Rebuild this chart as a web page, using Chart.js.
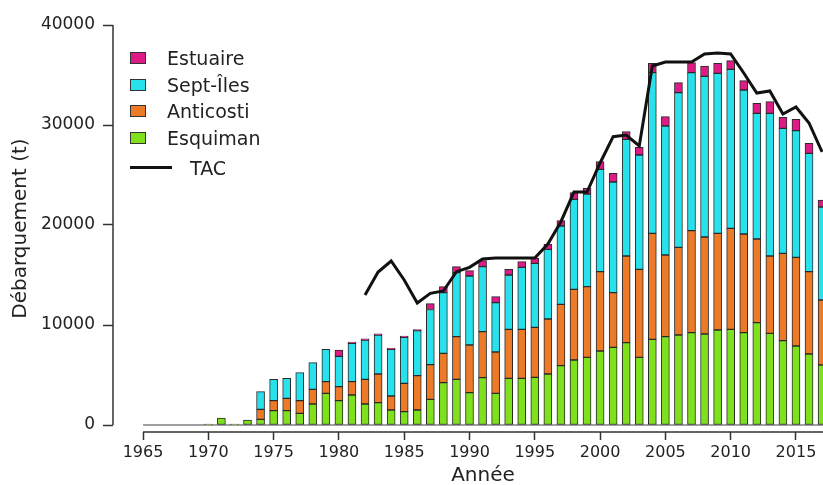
<!DOCTYPE html>
<html>
<head>
<meta charset="utf-8">
<script src="https://cdn.jsdelivr.net/npm/chart.js@4.4.1/dist/chart.umd.min.js"></script>
<style>
  body { margin: 0; background: #fff; }
  #wrap { position: relative; width: 823px; height: 485px; font-family: "DejaVu Sans", sans-serif; color: #222; }
  #legend { position: absolute; left: 130px; top: 45px; font-size: 19px; }
  .row { height: 26.6px; display: flex; align-items: center; }
  .box { width: 14px; height: 10px; border: 1.5px solid #333; margin-right: 21px; }
  .line { width: 42px; height: 3px; background: #111; margin-right: 18px; }
  #xtitle { position: absolute; left: 483px; top: 462px; transform: translateX(-50%); font-size: 20px; }
</style>
</head>
<body>
<div id="wrap">
  <canvas id="chart" width="823" height="485"></canvas>
  <div id="legend"></div>
  <div id="xtitle">Année</div>
</div>
<script>
// landings by sector (t), 1970-2017
const years = [1970, 1971, 1972, 1973, 1974, 1975, 1976, 1977, 1978, 1979,
  1980, 1981, 1982, 1983, 1984, 1985, 1986, 1987, 1988, 1989,
  1990, 1991, 1992, 1993, 1994, 1995, 1996, 1997, 1998, 1999,
  2000, 2001, 2002, 2003, 2004, 2005, 2006, 2007, 2008, 2009,
  2010, 2011, 2012, 2013, 2014, 2015, 2016, 2017];

const esquiman = [100, 700, 100, 500, 570, 1430, 1430, 1170, 2100, 3170,
  2430, 3000, 2100, 2230, 1500, 1330, 1500, 2570, 4230, 4570,
  3230, 4730, 3170, 4670, 4670, 4770, 5100, 5930, 6500, 6770,
  7400, 7770, 8230, 6770, 8570, 8830, 9000, 9230, 9100, 9500,
  9570, 9230, 10230, 9170, 8430, 7900, 7100, 6000];

const anticosti = [null, null, null, null, 1000, 1000, 1240, 1260, 1470, 1160,
  1400, 1330, 2470, 2870, 1400, 2840, 3430, 3460, 2940, 4260,
  4770, 4600, 4130, 4900, 4900, 5000, 5500, 6140, 7070, 7060,
  7930, 5460, 8670, 8800, 10600, 8170, 8770, 10200, 9700, 9670,
  10100, 9870, 8370, 7730, 8740, 8870, 8230, 6500];

const septIles = [null, null, null, null, 1760, 2140, 2000, 2800, 2660, 3240,
  3040, 3840, 3930, 3900, 4670, 4600, 4500, 5520, 6060, 6400,
  6900, 6500, 4930, 5430, 6200, 6400, 6970, 7830, 9000, 9270,
  10240, 11070, 11670, 11430, 16060, 12900, 15460, 15800, 16070, 16000,
  15900, 14400, 12570, 14270, 12500, 12660, 11840, 9300];

const estuaire = [null, null, null, null, null, null, null, null, null, null,
  630, 120, 120, 120, 120, 120, 120, 580, 600, 600,
  530, 600, 600, 570, 560, 500, 530, 530, 660, 570,
  760, 870, 760, 770, 940, 930, 1000, 1000, 1030, 1000,
  860, 930, 1000, 1160, 1100, 1140, 1000, 700];

// total allowable catch
const tacYears = [1982, 1983, 1984, 1985, 1986, 1987, 1988, 1989, 1990, 1991,
  1992, 1993, 1994, 1995, 1996, 1997, 1998, 1999, 2000, 2001,
  2002, 2003, 2004, 2005, 2006, 2007, 2008, 2009, 2010, 2011,
  2012, 2013, 2014, 2015, 2016, 2017];
const tac = [13000, 15300, 16400, 14500, 12200, 13170, 13400, 15330, 15770, 16600,
  16700, 16700, 16700, 16700, 18100, 20330, 23300, 23300, 26200, 28830,
  29000, 27900, 35900, 36300, 36300, 36300, 37100, 37200, 37100, 35200,
  33200, 33400, 31100, 31800, 30200, 27300];

const xTicks = [1965, 1970, 1975, 1980, 1985, 1990, 1995, 2000, 2005, 2010, 2015];
const yTicks = [0, 10000, 20000, 30000, 40000];

const series = [
  { label: 'Esquiman', values: esquiman, color: '#7ee11c' },
  { label: 'Anticosti', values: anticosti, color: '#ec7a26' },
  { label: 'Sept-Îles', values: septIles, color: '#27e2ec' },
  { label: 'Estuaire', values: estuaire, color: '#de1a86' }
];

// R-style detached axis lines + zero line
const rAxes = {
  id: 'rAxes',
  beforeDatasetsDraw(chart) {
    const { ctx, chartArea, scales: { x, y } } = chart;
    ctx.save();
    ctx.strokeStyle = '#a0a0a0';
    ctx.lineWidth = 2;
    ctx.beginPath();
    ctx.moveTo(x.getPixelForValue(xTicks[0]), y.getPixelForValue(0));
    ctx.lineTo(chartArea.right, y.getPixelForValue(0));
    ctx.stroke();
    ctx.strokeStyle = '#333';
    ctx.lineWidth = 1.5;
    ctx.beginPath();
    ctx.moveTo(chartArea.left, y.getPixelForValue(yTicks[0]));
    ctx.lineTo(chartArea.left, y.getPixelForValue(yTicks[yTicks.length - 1]));
    ctx.moveTo(x.getPixelForValue(xTicks[0]), chartArea.bottom);
    ctx.lineTo(chartArea.right, chartArea.bottom);
    ctx.stroke();
    ctx.restore();
  }
};

const datasets = [{
  type: 'line',
  label: 'TAC',
  stack: 'tac',
  order: 0,
  data: tacYears.map((yr, i) => ({ x: yr, y: tac[i] })),
  borderColor: '#111',
  borderWidth: 3,
  pointRadius: 0,
  tension: 0,
  fill: false
}];

series.forEach(s => {
  datasets.push({
    type: 'bar',
    label: s.label,
    stack: 'landings',
    order: 1,
    data: years.map((yr, i) => ({ x: yr, y: s.values[i] })),
    backgroundColor: s.color,
    borderColor: '#2a2a2a',
    borderWidth: 1,
    borderSkipped: false,
    barThickness: 8
  });
});

new Chart(document.getElementById('chart'), {
  type: 'bar',
  data: { datasets },
  plugins: [rAxes],
  options: {
    responsive: false,
    animation: false,
    devicePixelRatio: 1,
    layout: { padding: { top: 25, right: 0, left: 0, bottom: 0 } },
    plugins: { legend: { display: false }, tooltip: { enabled: false } },
    scales: {
      x: {
        type: 'linear',
        stacked: true,
        offset: false,
        min: 1962.7,
        max: 2017.07,
        afterBuildTicks: scale => { scale.ticks = xTicks.map(v => ({ value: v })); },
        afterFit: scale => { scale.height = 53; },
        border: { display: false },
        grid: { drawOnChartArea: false, drawTicks: true, tickLength: 8, tickColor: '#333', tickWidth: 1.5, offset: false },
        ticks: {
          color: '#222',
          padding: 3,
          maxRotation: 0,
          autoSkip: false,
          font: { family: 'DejaVu Sans', size: 16 },
          callback: v => String(v)
        }
      },
      y: {
        stacked: true,
        min: -700,
        max: 40000,
        afterBuildTicks: scale => { scale.ticks = yTicks.map(v => ({ value: v })); },
        afterFit: scale => { scale.width = 113; },
        border: { display: false },
        grid: { drawOnChartArea: false, drawTicks: true, tickLength: 10, tickColor: '#333', tickWidth: 1.5 },
        ticks: {
          color: '#222',
          padding: 8,
          font: { family: 'DejaVu Sans', size: 17 },
          callback: v => String(v)
        },
        title: {
          display: true,
          text: 'Débarquement (t)',
          color: '#222',
          padding: { top: 9, bottom: 0 },
          font: { family: 'DejaVu Sans', size: 20 }
        }
      }
    }
  }
});

// legend in the same order as the reference (top segment first)
const legend = document.getElementById('legend');
[...series].reverse().forEach(s => {
  const row = document.createElement('div');
  row.className = 'row';
  row.innerHTML = `<span class="box" style="background:${s.color}"></span><span>${s.label}</span>`;
  legend.appendChild(row);
});
const tacRow = document.createElement('div');
tacRow.className = 'row';
tacRow.style.marginTop = '3px';
tacRow.innerHTML = '<span class="line"></span><span>TAC</span>';
legend.appendChild(tacRow);
</script>
</body>
</html>
